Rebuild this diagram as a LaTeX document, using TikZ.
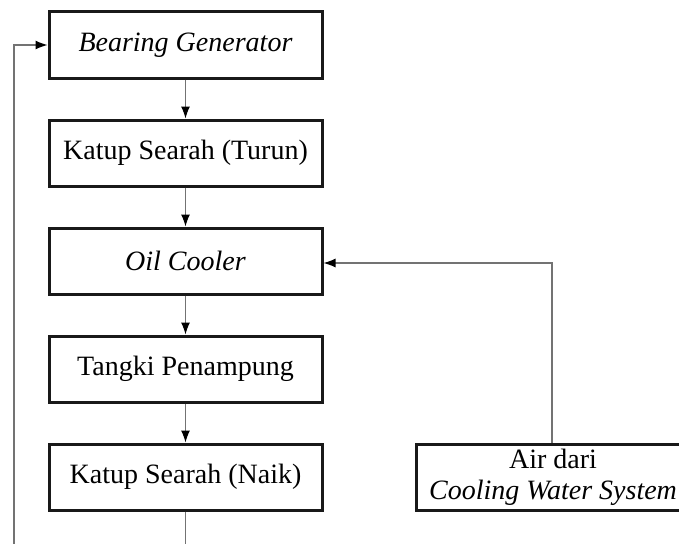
\documentclass[tikz,border=0pt]{standalone}
\usepackage{fontspec}
\setmainfont{Liberation Serif}
\usetikzlibrary{arrows.meta}
\begin{document}
\begin{tikzpicture}[x=1pt,y=-1pt,
  box/.style={draw=black!90, line width=3pt, minimum width=273pt, minimum height=66pt, inner sep=0pt, font=\fontsize{28}{30}\selectfont, align=center},
  flow/.style={draw=black!55, line width=1.2pt, -{Latex[length=12pt,width=9pt,color=black]}},
  plain/.style={draw=black!55, line width=1.2pt}]
\useasboundingbox (0,0) rectangle (679,543);
\node[box] (b1) at (185.5,45) {\textit{Bearing Generator}};
\node[box] (b2) at (185.5,153) {Katup Searah (Turun)};
\node[box] (b3) at (185.5,261) {\textit{Oil Cooler}};
\node[box] (b4) at (185.5,369) {Tangki Penampung};
\node[box] (b5) at (185.5,477) {Katup Searah (Naik)};
\node[box, minimum width=274pt, font=\fontsize{28}{31}\selectfont] (cw) at (553,477) {Air dari\\\textit{Cooling Water System}};
\coordinate (bend) at (552,263);
\coordinate (outb) at (185.5,545);
\coordinate (fb0) at (14,545);
\coordinate (fb1) at (14,45);
\draw[flow] (b1) -- (b2);
\draw[flow] (b2) -- (b3);
\draw[flow] (b3) -- (b4);
\draw[flow] (b4) -- (b5);
\draw[plain] (b5) -- (outb);
\draw[flow] (fb0) -- (fb1) -- (b1.west);
\draw[flow] (cw.north -| bend) -- (bend) -- (b3.east |- bend);
\end{tikzpicture}
\end{document}
